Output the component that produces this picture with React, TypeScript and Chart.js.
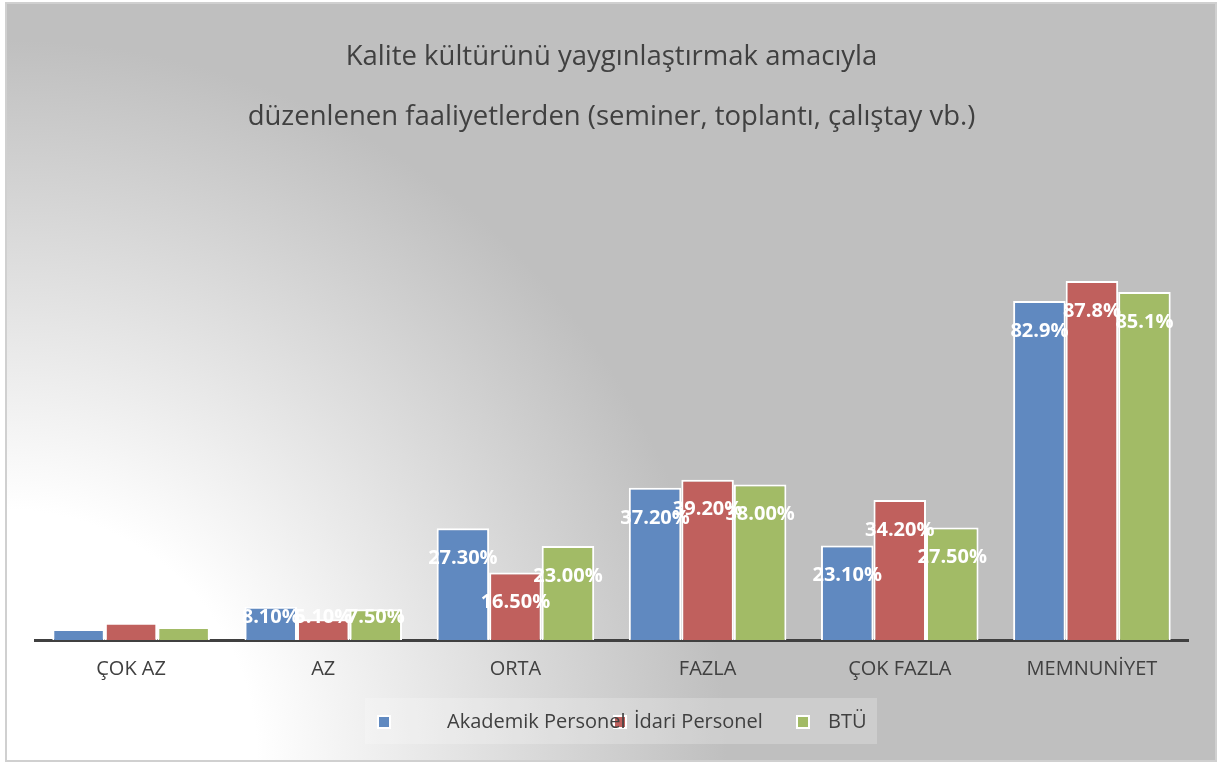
import React, { useEffect, useRef } from "react";
import { Chart, registerables } from "chart.js";

Chart.register(...registerables);

const categories = ["ÇOK AZ", "AZ", "ORTA", "FAZLA", "ÇOK FAZLA", "MEMNUNİYET"];
const seriesNames = ["Akademik Personel", "İdari Personel", "BTÜ"];
const akademik = [2.7, 8.1, 27.3, 37.2, 23.1, 82.9];
const idari = [4.2, 5.1, 16.5, 39.2, 34.2, 87.8];
const btu = [3.2, 7.5, 23.0, 38.0, 27.5, 85.1];
const titleLines = [
  "Kalite kültürünü yaygınlaştırmak amacıyla",
  "düzenlenen faaliyetlerden (seminer, toplantı, çalıştay vb.)",
];
const colors = ["#6089c0", "#c0605d", "#a2bb66"];
const hiddenLabelCategories = ["ÇOK AZ"];

const FONT = "'Open Sans', 'DejaVu Sans', sans-serif";

const labelPlugin = {
  id: "barLabels",
  afterDatasetsDraw(chart: any) {
    const ctx = chart.ctx;
    const bottom = chart.chartArea.bottom;
    ctx.save();
    ctx.fillStyle = "#ffffff";
    ctx.font = `bold 20px ${FONT}`;
    ctx.textAlign = "center";
    ctx.textBaseline = "middle";
    chart.data.datasets.forEach((ds: any, di: number) => {
      const meta = chart.getDatasetMeta(di);
      meta.data.forEach((el: any, i: number) => {
        const cat = categories[i];
        if (hiddenLabelCategories.includes(cat)) return;
        const v = ds.data[i];
        const txt = v.toFixed(cat === "MEMNUNİYET" ? 1 : 2) + "%";
        const y = Math.min(el.y + 30, bottom - 23);
        ctx.fillText(txt, el.x, y);
      });
    });
    ctx.restore();
  },
};

const legendPlugin = {
  id: "customLegend",
  afterDraw(chart: any) {
    const ctx = chart.ctx;
    ctx.save();
    ctx.fillStyle = "rgba(255,255,255,0.22)";
    ctx.fillRect(358, 694, 512, 46);
    const boxX = [377, 613, 796];
    const textX = [440, 627, 821];
    const cy = 718;
    chart.data.datasets.forEach((ds: any, i: number) => {
      ctx.fillStyle = "#ffffff";
      ctx.fillRect(boxX[i] - 7, cy - 7, 14, 14);
      ctx.fillStyle = ds.backgroundColor;
      ctx.fillRect(boxX[i] - 5, cy - 5, 10, 10);
    });
    ctx.fillStyle = "#404040";
    ctx.font = `20px ${FONT}`;
    ctx.textAlign = "left";
    ctx.textBaseline = "middle";
    chart.data.datasets.forEach((ds: any, i: number) => {
      ctx.fillText(ds.label, textX[i], cy);
    });
    ctx.restore();
  },
};

export default function App() {
  const ref = useRef<HTMLCanvasElement>(null);
  useEffect(() => {
    document.body.style.margin = "0";
    const chart = new Chart(ref.current!, {
      type: "bar",
      data: {
        labels: categories,
        datasets: [akademik, idari, btu].map((d, i) => ({
          label: seriesNames[i],
          data: d,
          backgroundColor: colors[i],
          borderColor: "#ffffff",
          borderWidth: 2,
          borderSkipped: "bottom",
          categoryPercentage: 0.82,
          barPercentage: 1.0,
        })),
      },
      options: {
        animation: false,
        responsive: false,
        maintainAspectRatio: false,
        layout: { padding: { left: 28, right: 27, top: 0, bottom: 62 } },
        plugins: {
          legend: { display: false },
          tooltip: { enabled: false },
          title: {
            display: true,
            text: titleLines,
            color: "#404040",
            font: { family: FONT, size: 27.5, weight: "normal", lineHeight: "60px" },
            padding: { top: 23, bottom: 84 },
          },
        },
        scales: {
          x: {
            grid: { display: false, drawTicks: false },
            border: { display: true, color: "#404040", width: 3 },
            ticks: { color: "#404040", font: { family: FONT, size: 20 }, padding: 17 },
          },
          y: { display: false, min: 0, max: 100 },
        },
      },
      plugins: [labelPlugin, legendPlugin],
    });
    return () => chart.destroy();
  }, []);

  return (
    <div style={{ position: "relative", width: 1218, height: 762 }}>
      <div
        style={{
          position: "absolute",
          left: 5,
          top: 2,
          width: 1212,
          height: 760,
          boxSizing: "border-box",
          border: "2px solid #d0d0d0",
          background:
            "radial-gradient(circle at 0% 100%, #ffffff 0px, #ffffff 250px, #bfbfbf 720px)",
        }}
      >
        <canvas ref={ref} width={1208} height={756} style={{ display: "block" }} />
      </div>
    </div>
  );
}
